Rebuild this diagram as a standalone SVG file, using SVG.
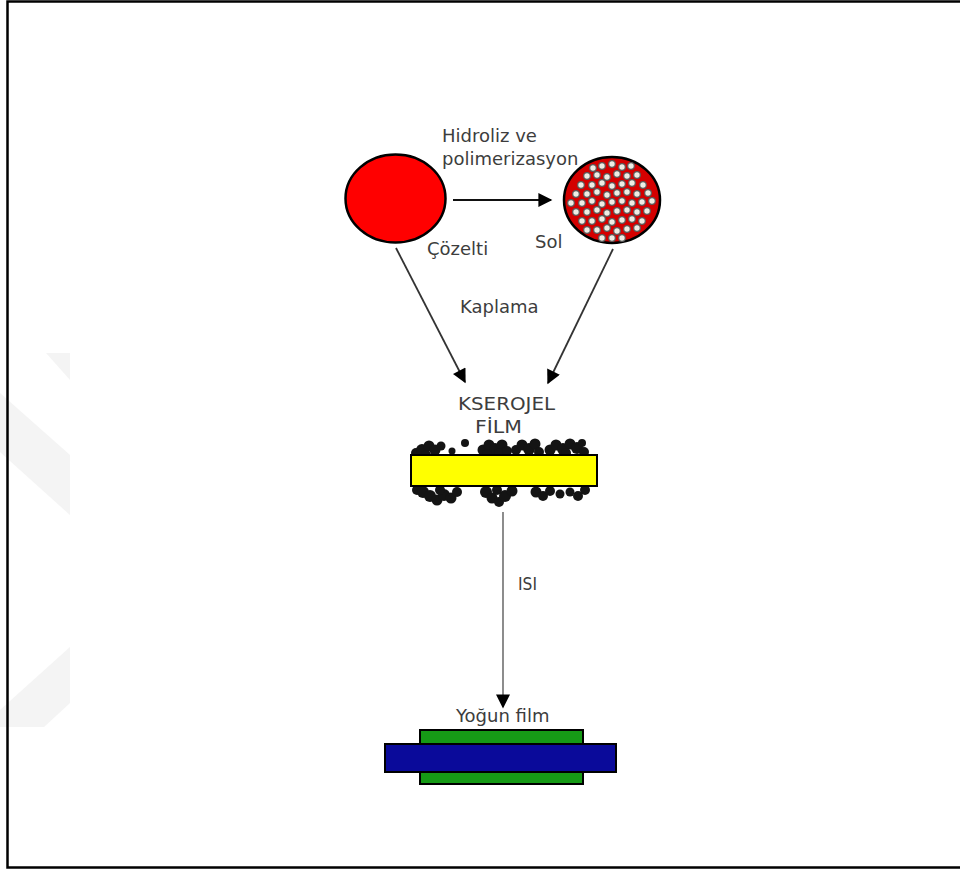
<svg xmlns="http://www.w3.org/2000/svg" width="960" height="870" viewBox="0 0 960 870">
  <style>
    .lbl { font-family: "DejaVu Sans", Verdana, sans-serif; font-size: 18px; fill: #3d3d3d; }
    .edge { fill: none; stroke-width: 1.8; }
    .grain { fill: #141414; }
    .pore { fill: #eeede4; stroke: #5a5a5a; stroke-width: 1.2; }
  </style>
  <defs>
    <marker id="head" viewBox="0 0 10 10" refX="9" refY="5" markerWidth="18" markerHeight="14" markerUnits="userSpaceOnUse" orient="auto">
      <path d="M0,0 L10,5 L0,10 Z" fill="#000"/>
    </marker>
  </defs>

  <rect x="0" y="0" width="960" height="870" fill="#fff"/>

  <!-- faint background mark on the left -->
  <g id="watermark" fill="#f4f4f4">
    <polygon points="46,353 70,353 70,380"/>
    <polygon points="0,393 70,455 70,515 0,452"/>
    <polygon points="70,647 70,703 44,727 0,727 0,710"/>
  </g>

  <!-- page frame -->
  <rect x="7.5" y="1.5" width="1000" height="866" fill="none" stroke="#000" stroke-width="2.5"/>

  <!-- connectors -->
  <g id="connectors">
    <line class="edge" x1="453" y1="200" x2="551" y2="200" stroke="#111" marker-end="url(#head)"/>
    <line class="edge" x1="396" y1="248" x2="465" y2="382" stroke="#333" marker-end="url(#head)"/>
    <line class="edge" x1="613" y1="249" x2="548" y2="383" stroke="#333" marker-end="url(#head)"/>
    <line class="edge" x1="503" y1="512" x2="503" y2="707" stroke="#808080" stroke-width="2.2" marker-end="url(#head)"/>
    <text class="lbl" x="442" y="142">Hidroliz ve</text>
    <text class="lbl" x="442" y="165">polimerizasyon</text>
    <text class="lbl" x="460" y="313">Kaplama</text>
    <text class="lbl" x="518" y="590" font-size="13" textLength="19" lengthAdjust="spacingAndGlyphs">ISI</text>
  </g>

  <!-- solution -->
  <g id="cozelti">
    <ellipse cx="395.5" cy="198.5" rx="50" ry="44" fill="#ff0000" stroke="#000" stroke-width="2.5"/>
    <text class="lbl" x="427" y="255">Çözelti</text>
  </g>

  <!-- sol with dispersed particles -->
  <g id="sol">
    <ellipse cx="612" cy="200" rx="48" ry="43" fill="#d40000" stroke="#000" stroke-width="2.5"/>
    <g class="pore">
      <circle cx="602" cy="166" r="3.3"/><circle cx="612" cy="164" r="3.3"/><circle cx="622" cy="167" r="3.3"/><circle cx="593" cy="168" r="3.3"/><circle cx="631" cy="166" r="3.3"/>
      <circle cx="587" cy="176" r="3.3"/><circle cx="597" cy="175" r="3.3"/><circle cx="607" cy="177" r="3.3"/><circle cx="617" cy="174" r="3.3"/><circle cx="627" cy="176" r="3.3"/><circle cx="637" cy="175" r="3.3"/>
      <circle cx="581" cy="185" r="3.3"/><circle cx="592" cy="185" r="3.3"/><circle cx="602" cy="183" r="3.3"/><circle cx="612" cy="186" r="3.3"/><circle cx="622" cy="184" r="3.3"/><circle cx="632" cy="183" r="3.3"/><circle cx="643" cy="185" r="3.3"/>
      <circle cx="576" cy="194" r="3.3"/><circle cx="587" cy="194" r="3.3"/><circle cx="597" cy="192" r="3.3"/><circle cx="607" cy="195" r="3.3"/><circle cx="617" cy="193" r="3.3"/><circle cx="627" cy="192" r="3.3"/><circle cx="637" cy="194" r="3.3"/><circle cx="648" cy="193" r="3.3"/>
      <circle cx="571" cy="203" r="3.3"/><circle cx="582" cy="203" r="3.3"/><circle cx="592" cy="201" r="3.3"/><circle cx="602" cy="204" r="3.3"/><circle cx="612" cy="202" r="3.3"/><circle cx="622" cy="201" r="3.3"/><circle cx="632" cy="203" r="3.3"/><circle cx="642" cy="202" r="3.3"/><circle cx="652" cy="201" r="3.3"/>
      <circle cx="576" cy="212" r="3.3"/><circle cx="587" cy="212" r="3.3"/><circle cx="597" cy="210" r="3.3"/><circle cx="607" cy="213" r="3.3"/><circle cx="617" cy="211" r="3.3"/><circle cx="627" cy="210" r="3.3"/><circle cx="637" cy="212" r="3.3"/><circle cx="647" cy="211" r="3.3"/>
      <circle cx="582" cy="221" r="3.3"/><circle cx="592" cy="221" r="3.3"/><circle cx="602" cy="219" r="3.3"/><circle cx="612" cy="222" r="3.3"/><circle cx="622" cy="220" r="3.3"/><circle cx="632" cy="219" r="3.3"/><circle cx="642" cy="221" r="3.3"/>
      <circle cx="587" cy="230" r="3.3"/><circle cx="597" cy="230" r="3.3"/><circle cx="607" cy="228" r="3.3"/><circle cx="617" cy="231" r="3.3"/><circle cx="627" cy="229" r="3.3"/><circle cx="637" cy="228" r="3.3"/>
      <circle cx="602" cy="238" r="3.3"/><circle cx="612" cy="238" r="3.3"/><circle cx="622" cy="238" r="3.3"/>
    </g>
    <text class="lbl" x="535" y="248">Sol</text>
  </g>

  <!-- xerogel film on substrate -->
  <g id="kserojel-film">
    <text class="lbl" x="458" y="410" font-size="17" textLength="97" lengthAdjust="spacingAndGlyphs">KSEROJEL</text>
    <text class="lbl" x="475" y="433" font-size="17" textLength="47" lengthAdjust="spacingAndGlyphs">FİLM</text>
    <g class="grain">
      <circle cx="416" cy="453" r="5"/><circle cx="422" cy="450" r="6"/><circle cx="429" cy="446" r="5.5"/><circle cx="435" cy="450" r="5.5"/><circle cx="441" cy="446" r="4.5"/><circle cx="426" cy="455" r="5"/>
      <circle cx="452" cy="451" r="3.5"/><circle cx="465" cy="443" r="4"/>
      <circle cx="483" cy="450" r="5.5"/><circle cx="489" cy="445" r="5.5"/><circle cx="495" cy="449" r="6"/><circle cx="502" cy="445" r="5.5"/><circle cx="499" cy="453" r="5"/><circle cx="487" cy="454" r="5"/><circle cx="507" cy="451" r="5"/>
      <circle cx="516" cy="450" r="5"/><circle cx="522" cy="445" r="5.5"/><circle cx="529" cy="449" r="6"/><circle cx="535" cy="444" r="5.5"/><circle cx="539" cy="452" r="5"/>
      <circle cx="550" cy="450" r="5.5"/><circle cx="556" cy="445" r="5.5"/><circle cx="563" cy="449" r="6"/><circle cx="570" cy="444" r="5.5"/><circle cx="577" cy="448" r="6"/><circle cx="584" cy="452" r="5"/><circle cx="566" cy="453" r="5"/><circle cx="582" cy="443" r="4"/>
      <circle cx="417" cy="490" r="5"/><circle cx="423" cy="492" r="6"/><circle cx="430" cy="496" r="6"/><circle cx="437" cy="500" r="5.5"/><circle cx="444" cy="495" r="6"/><circle cx="451" cy="498" r="5.5"/><circle cx="457" cy="492" r="5"/><circle cx="440" cy="490" r="5"/>
      <circle cx="486" cy="492" r="6"/><circle cx="492" cy="498" r="5.5"/><circle cx="499" cy="502" r="5"/><circle cx="505" cy="496" r="6"/><circle cx="512" cy="491" r="5.5"/><circle cx="497" cy="490" r="5"/>
      <circle cx="536" cy="492" r="5.5"/><circle cx="543" cy="496" r="5"/><circle cx="550" cy="491" r="5"/><circle cx="560" cy="494" r="4.5"/><circle cx="570" cy="492" r="4.5"/><circle cx="578" cy="496" r="5"/><circle cx="585" cy="490" r="5"/>
    </g>
    <rect x="411" y="455" width="186" height="31" fill="#ffff00" stroke="#000" stroke-width="2"/>
  </g>

  <!-- dense film after heating -->
  <g id="yogun-film">
    <text class="lbl" x="456" y="722">Yoğun film</text>
    <rect x="420" y="730" width="163" height="54" fill="#169a16" stroke="#000" stroke-width="2"/>
    <rect x="385" y="744" width="231" height="28" fill="#0a0a9a" stroke="#000" stroke-width="2"/>
  </g>
</svg>
